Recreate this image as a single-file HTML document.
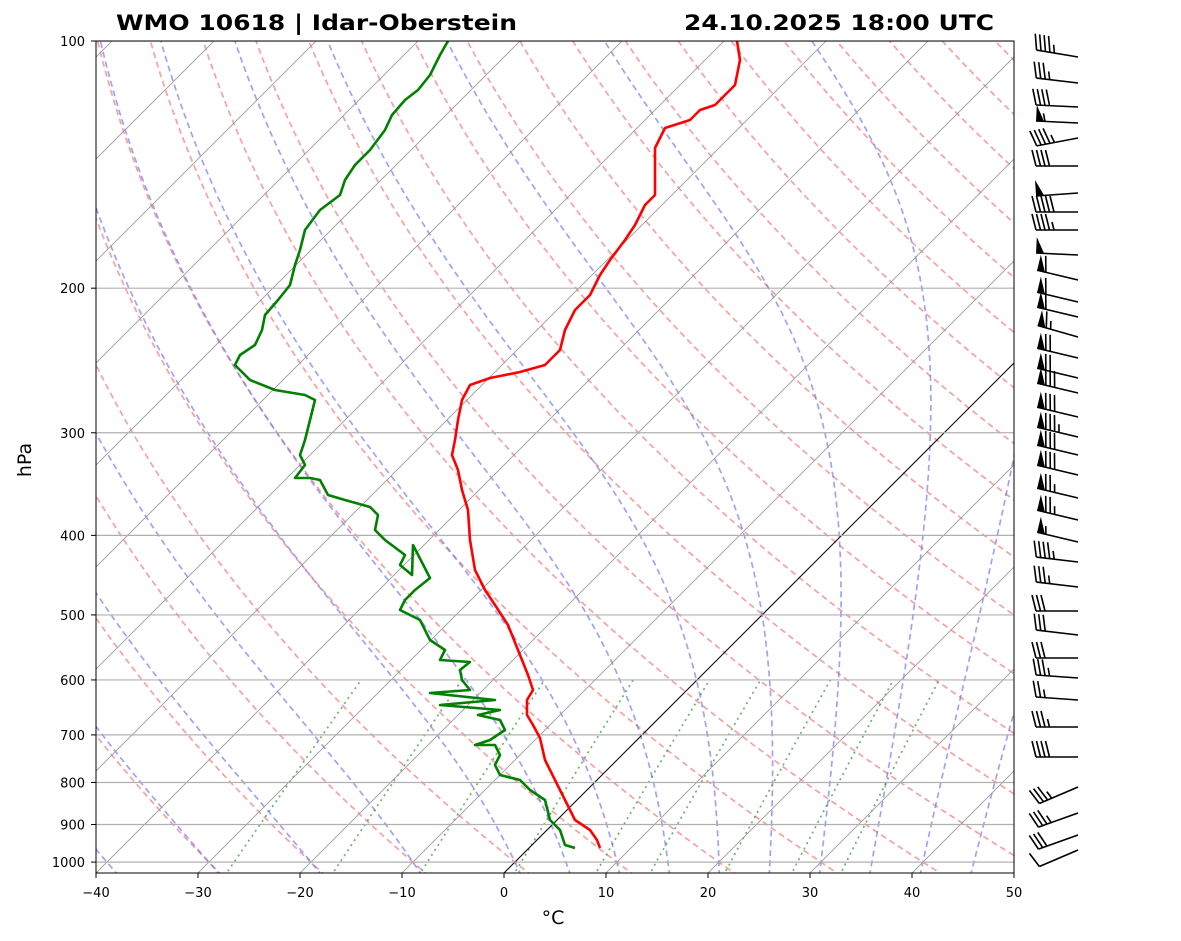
<!DOCTYPE html>
<html><head><meta charset="utf-8"><style>
html,body{margin:0;padding:0;background:#fff;}
svg{display:block;font-family:"DejaVu Sans","Liberation Sans",sans-serif;}
</style></head><body>
<svg id="s" width="1181" height="941" xmlns="http://www.w3.org/2000/svg">
<defs><clipPath id="c"><rect x="96" y="41" width="918" height="832"/></clipPath></defs>
<rect width="1181" height="941" fill="#fff"/>
<g id="bg" clip-path="url(#c)"></g>
<g id="data" clip-path="url(#c)"></g>
<rect x="96" y="41" width="918" height="832" fill="none" stroke="#000" stroke-width="1"/>
<g id="ax" font-size="13" fill="#000"></g>
<text x="116" y="30" font-size="21" font-weight="bold" textLength="401" lengthAdjust="spacingAndGlyphs">WMO 10618 | Idar-Oberstein</text>
<text x="684" y="30" font-size="21" font-weight="bold" textLength="310" lengthAdjust="spacingAndGlyphs">24.10.2025 18:00 UTC</text>
<text x="553" y="924" font-size="19" text-anchor="middle">°C</text>
<text transform="translate(31,460) rotate(-90)" font-size="19" text-anchor="middle">hPa</text>
<g id="wb" stroke="#000" stroke-width="1.6" fill="#000"></g>
</svg>
<script>
const NS="http://www.w3.org/2000/svg";
function Y(p){return 41+356.6*Math.log(p/100);}
function X(T,p){return 504+10.2*T+(873-Y(p));}
function el(par,tag,a){const e=document.createElementNS(NS,tag);for(const k in a)e.setAttribute(k,a[k]);document.getElementById(par).appendChild(e);return e;}
function poly(par,pts,st){el(par,"polyline",Object.assign({points:pts.map(q=>q[0].toFixed(1)+","+q[1].toFixed(1)).join(" "),fill:"none"},st));}
const ps=[];for(let p=1040;p>=95;p-=5)ps.push(p);
for(let th=-30;th<=200;th+=10){const K=th+273.15;poly("bg",ps.map(p=>[X(K*Math.pow(p/1000,0.286)-273.15,p),Y(p)]),{stroke:"#f07070","stroke-opacity":"0.65","stroke-width":"1.7","stroke-dasharray":"6,4"});}
function es(T){return 6.112*Math.exp(17.67*T/(T+243.5));}
function gm(T,p){const Tk=T+273.15,e=es(T),r=0.622*e/(p-e),Lv=2.501e6,Rd=287,cp=1005,eps=0.622;
 return (Rd*Tk+Lv*r)/(cp+Lv*Lv*r*eps/(Rd*Tk*Tk))/p;}
const mt=[-40,-30,-20,-10,0,5,10,15,20,25,30,35,40,45];
for(const t0 of mt){let pts=[];let T=t0;for(let p=1000;p>=100;p-=2){pts.push([X(T,p),Y(p)]);T-=gm(T,p)*2;}
 let down=[];T=t0;for(let p=1000;p<=1040;p+=2){down.unshift([X(T,p),Y(p)]);T+=gm(T,p)*2;}
 poly("bg",down.concat(pts),{stroke:"#7070f0","stroke-opacity":"0.65","stroke-width":"1.7","stroke-dasharray":"6,4"});}
for(const w of [0.0004,0.001,0.002,0.004,0.007,0.01,0.016,0.024,0.032]){const pts=[];for(let p=1040;p>=600;p-=10){const e=w*p/(0.622+w),l=Math.log(e/6.112);const Td=243.5*l/(17.67-l);pts.push([X(Td,p),Y(p)]);}
 poly("bg",pts,{stroke:"#3a9a3a","stroke-opacity":"0.75","stroke-width":"1.7","stroke-dasharray":"2,4"});}
for(let T=-120;T<=50;T+=10){el("bg","line",{x1:X(T,1100),y1:Y(1100),x2:X(T,90),y2:Y(90),stroke:T==0?"#000":"#999","stroke-width":T==0?"1":"0.9"});}
for(let p=100;p<=1000;p+=100){const y=Y(p);el("bg","line",{x1:96,y1:y,x2:1014,y2:y,stroke:"#b0b0b0","stroke-width":"1.2"});
 el("ax","line",{x1:91,y1:y,x2:96,y2:y,stroke:"#000"});const t=el("ax","text",{x:85,y:y+5,"text-anchor":"end"});t.textContent=p;}
for(let T=-40;T<=50;T+=10){const x=96+(T+40)*10.2;el("ax","line",{x1:x,y1:873,x2:x,y2:878,stroke:"#000"});const t=el("ax","text",{x:x,y:897,"text-anchor":"middle"});t.textContent=T==0?"0":(T<0?"\u2212"+(-T):T);}
const red=[[737,41],[740,60],[735,85],[725,95],[715,105],[700,110],[690,120],[665,128],[655,148],[655,170],[655,195],[645,205],[635,225],[625,240],[610,260],[600,275],[590,295],[575,310],[565,330],[560,350],[545,365],[520,372],[490,378],[470,385],[462,400],[458,420],[455,440],[452,455],[458,470],[462,490],[468,510],[470,540],[475,570],[485,590],[495,605],[508,625],[518,650],[528,675],[533,690],[527,700],[527,715],[533,725],[540,738],[545,760],[555,780],[565,800],[575,820],[590,830],[597,840],[600,848]];
const grn=[[448,41],[440,55],[430,75],[418,90],[405,100],[392,115],[385,130],[370,150],[355,165],[345,180],[340,195],[320,210],[305,230],[300,250],[295,265],[290,285],[278,300],[265,315],[262,330],[255,345],[240,355],[235,365],[250,380],[275,390],[305,395],[315,400],[310,420],[305,440],[300,455],[305,465],[295,478],[310,478],[320,480],[328,495],[345,500],[370,507],[378,515],[375,530],[385,540],[405,555],[400,565],[412,575],[413,545],[430,578],[415,590],[405,600],[400,610],[420,620],[430,640],[445,650],[440,660],[470,662],[460,670],[462,680],[470,690],[430,693],[495,700],[440,705],[500,710],[478,715],[500,720],[505,730],[490,740],[475,745],[495,745],[500,755],[495,765],[500,775],[520,780],[530,790],[545,800],[550,820],[560,830],[565,845],[575,848]];
poly("data",red,{stroke:"#f00","stroke-width":"2.6","stroke-linejoin":"round"});
poly("data",grn,{stroke:"#008000","stroke-width":"2.6","stroke-linejoin":"round"});
const B=[[57,-7,0,4,1],[83,-5,0,3,1],[107,-2,0,4,0],[123,-2,1,0,1],[138,8,0,4,1],[166,0,0,4,0],[193,3,1,0,0],[212,0,0,5,0],[230,0,0,4,1],[255,-2,1,0,0],[280,-10,1,1,0],[302,-10,1,1,0],[317,-10,1,1,0],[337,-12,1,1,1],[358,-10,1,2,0],[378,-10,1,2,0],[393,-10,1,3,0],[417,-10,1,3,0],[437,-10,1,3,1],[455,-10,1,3,0],[475,-10,1,3,0],[498,-10,1,2,1],[520,-10,1,2,1],[542,-10,1,0,1],[562,-5,0,4,1],[587,-5,0,3,1],[611,0,0,3,0],[635,-5,0,3,0],[658,0,0,3,0],[678,-3,0,3,1],[700,-3,0,2,1],[727,0,0,3,1],[757,0,0,4,0],[787,18,0,3,1],[813,15,0,3,1],[835,15,0,3,0],[850,18,0,1,0]];
B.forEach(b=>{const xr=1078,yr=b[0],L=42;const ang=Math.atan2(-b[1],L);const ux=Math.cos(ang),uy=Math.sin(ang);
 const xl=xr-L*ux,yl=yr-L*uy;const nx=uy,ny=-ux;
 el("wb","line",{x1:xr,y1:yr,x2:xl,y2:yl});
 let s=0;const P=d=>[xl+d*ux,yl+d*uy];
 for(let i=0;i<b[2];i++){const a=P(s),c=P(s+8);el("wb","polygon",{points:`${a[0]},${a[1]} ${c[0]},${c[1]} ${a[0]+16*nx},${a[1]+16*ny}`,stroke:"none"});s+=9;}
 for(let i=0;i<b[3];i++){const a=P(s);el("wb","line",{x1:a[0],y1:a[1],x2:a[0]+16*nx-4*ux,y2:a[1]+16*ny-4*uy});s+=4.5;}
 if(b[4]){if(s==0)s=4.5;const a=P(s);el("wb","line",{x1:a[0],y1:a[1],x2:a[0]+8*nx-2*ux,y2:a[1]+8*ny-2*uy});}
});
</script>
</body></html>
